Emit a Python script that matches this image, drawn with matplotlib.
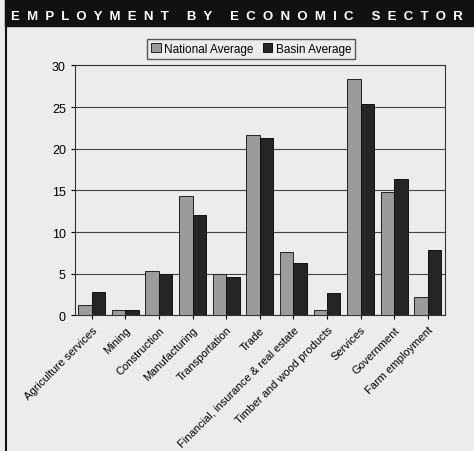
import numpy as np
import matplotlib.pyplot as plt

plt.rcParams['font.family'] = ['Liberation Sans', 'DejaVu Sans']

sectors = ["Agriculture services", "Mining", "Construction", "Manufacturing",
           "Transportation", "Trade", "Financial, insurance & real estate",
           "Timber and wood products", "Services", "Government", "Farm employment"]
national = [1.2, 0.7, 5.3, 14.3, 5.0, 21.6, 7.6, 0.6, 28.4, 14.8, 2.2]
basin = [2.8, 0.6, 5.0, 12.1, 4.6, 21.3, 6.3, 2.7, 25.4, 16.4, 7.9]

bg = '#ececec'
fig = plt.figure(figsize=(4.74, 4.52), dpi=100, facecolor=bg)

# title band
fig.patches.append(plt.Rectangle((0.01, 0.94), 0.99, 0.06, transform=fig.transFigure,
                                 color='#111111', zorder=0))
fig.text(0.5, 0.962, "E  M  P  L  O  Y  M  E  N  T     B  Y     E  C  O  N  O  M  I  C     S  E  C  T  O  R",
         color='white', ha='center', va='center', fontsize=9.5, fontweight='bold')
# left frame line
fig.add_artist(plt.Line2D([0.012, 0.012], [0, 1], transform=fig.transFigure,
                          color='#111111', lw=1.5))

ax = fig.add_axes([0.158, 0.3, 0.78, 0.553])
ax.set_facecolor(bg)
x = np.arange(len(sectors))
w = 0.4
ax.bar(x - w / 2, national, w, color='#9b9b9b', edgecolor='#222222', lw=0.7,
       label='National Average', zorder=3)
ax.bar(x + w / 2, basin, w, color='#252525', edgecolor='#111111', lw=0.7,
       label='Basin Average', zorder=3)

ax.set_ylim(0, 30)
ax.set_yticks(range(0, 31, 5))
ax.set_xlim(-0.5, len(sectors) - 0.5)
ax.set_xticks(x)
ax.set_xticklabels(sectors, rotation=45, ha='right', rotation_mode='anchor', fontsize=8)
ax.tick_params(axis='y', labelsize=9, length=3)
ax.tick_params(axis='x', length=3)
ax.grid(axis='y', color='#444444', lw=0.8, zorder=0)
for s in ax.spines.values():
    s.set_color('#333333')
    s.set_linewidth(0.8)

leg = fig.legend(loc='upper center', bbox_to_anchor=(0.53, 0.925), ncol=2, fontsize=8.5,
                 frameon=True, fancybox=False, edgecolor='#333333', facecolor=bg,
                 handlelength=0.8, handleheight=0.8, handletextpad=0.3,
                 columnspacing=0.8, borderpad=0.35)

fig.savefig('out.png', dpi=100, facecolor=bg)
